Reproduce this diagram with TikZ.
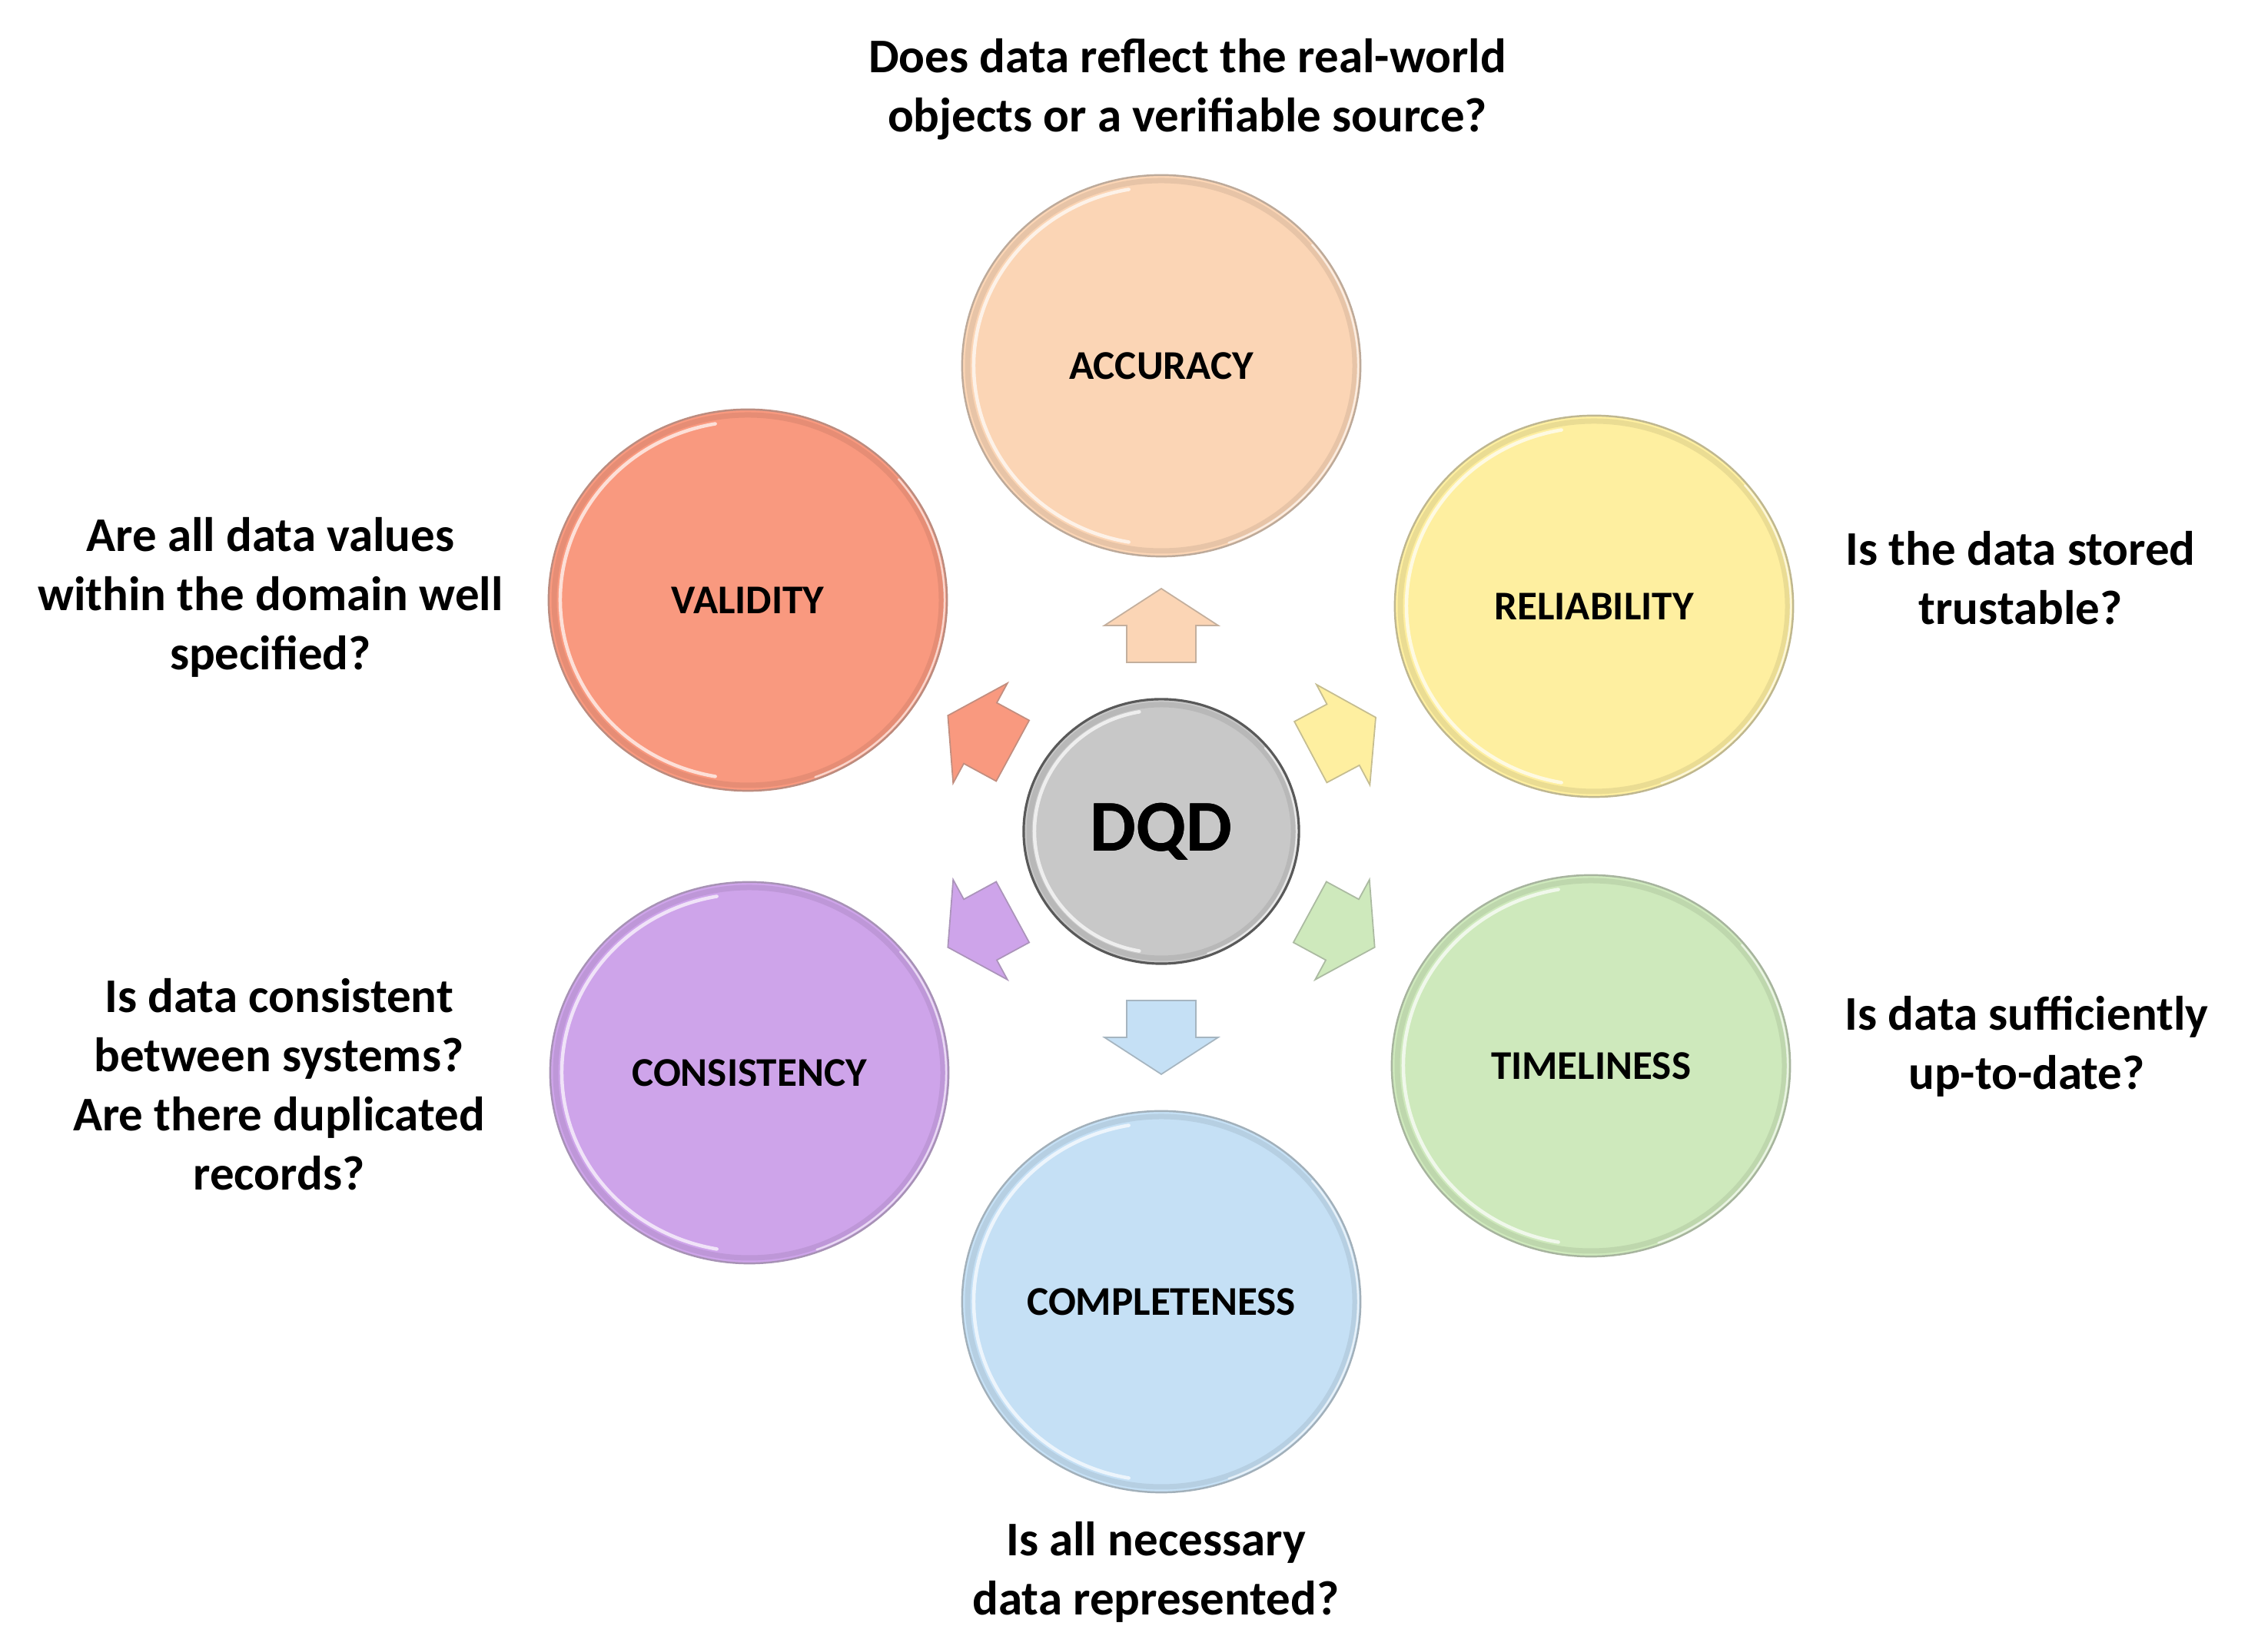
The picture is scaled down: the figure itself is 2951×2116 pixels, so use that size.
\documentclass[tikz,border=0pt]{standalone}
\usepackage{fontspec}
\setmainfont{Carlito}
\usetikzlibrary{calc,shapes.geometric}

\definecolor{accfill}{HTML}{FBD5B5}
\definecolor{relfill}{HTML}{FEEFA0}
\definecolor{timfill}{HTML}{CEE9BC}
\definecolor{comfill}{HTML}{C5E0F5}
\definecolor{confill}{HTML}{CEA4EA}
\definecolor{valfill}{HTML}{F9997F}
\definecolor{hubfill}{HTML}{C8C8C8}

\tikzset{
  ball/.style={ellipse, minimum width=5.18cm, minimum height=4.96cm, inner sep=0pt,
    fill=#1, draw=#1!50!gray, line width=0.7pt,
    font=\fontsize{15.1pt}{18pt}\selectfont\bfseries},
  hub/.style={ellipse, minimum width=3.58cm, minimum height=3.44cm, inner sep=0pt,
    fill=hubfill, draw=gray!70!black, line width=0.9pt,
    font=\fontsize{27pt}{32pt}\selectfont\bfseries},
  question/.style={align=center, inner sep=0pt,
    font=\fontsize{17.9pt}{21.9pt}\selectfont\bfseries},
  blockarrow/.style={fill=#1, draw=#1!55!gray, line width=0.5pt, line join=miter},
  rim/.style={#1!75!black, opacity=0.3, line width=0.07cm},
  shine/.style={white, opacity=0.7, line width=0.045cm, line cap=round},
  gloss/.style={white, opacity=0.6, line width=0.025cm, line cap=round},
}

\begin{document}
\begin{tikzpicture}[x=0.01cm, y=0.01cm]
\useasboundingbox (0,0) rectangle (2951,2116);

% centre hub and the six dimensions
\node[hub] (dqd) at (1511,1034) {DQD};
\node[ball=accfill] (acc) at (1511,1640) {ACCURACY};
\node[ball=relfill] (rel) at (2074,1327) {RELIABILITY};
\node[ball=timfill] (tim) at (2070,729) {TIMELINESS};
\node[ball=comfill] (com) at (1511,422) {COMPLETENESS};
\node[ball=confill] (con) at (975,720) {CONSISTENCY};
\node[ball=valfill] (val) at (973,1335) {VALIDITY};

% bevel effect on the outer circles
\foreach \n/\c in {acc/accfill, rel/relfill, tim/timfill, com/comfill, con/confill, val/valfill} {
  \draw[rim=\c] (\n.center) ellipse [x radius=252, y radius=241];
  \draw[shine] ($(\n.center)+(100:244 and 233)$)
    arc[start angle=100, end angle=260, x radius=244, y radius=233];
  \draw[gloss] ($(\n.center)+(-70:256 and 245)$)
    arc[start angle=-70, end angle=40, x radius=256, y radius=245];
}
% bevel effect on the hub
\draw[rim=hubfill] (dqd.center) ellipse [x radius=172, y radius=165];
\draw[shine] ($(dqd.center)+(100:165 and 158)$)
  arc[start angle=100, end angle=260, x radius=165, y radius=158];
\draw[gloss] ($(dqd.center)+(-70:176 and 169)$)
  arc[start angle=-70, end angle=40, x radius=176, y radius=169];
\node[font=\fontsize{27pt}{32pt}\selectfont\bfseries] at (dqd.center) {DQD};

% block arrows pointing from the hub to each dimension
\foreach \ang/\c in {90/accfill, 28/relfill, -28.5/timfill, -90/comfill, 208.5/confill, 151.5/valfill} {
  \begin{scope}[shift={(dqd.center)}, rotate=\ang]
    \draw[blockarrow=\c] (220,-45) -- (268,-45) -- (268,-74) -- (316,0)
      -- (268,74) -- (268,45) -- (220,45) -- cycle;
  \end{scope}
}

% guiding questions
\node[question] (qacc) at (1545,2000) {Does data reflect the real-world\\objects or a verifiable source?};
\node[question] (qval) at (352,1339) {Are all data values\\within the domain well\\specified?};
\node[question] (qrel) at (2629,1364) {Is the data stored\\trustable?};
\node[question] (qcon) at (363,705) {Is data consistent\\between systems?\\Are there duplicated\\records?};
\node[question] (qtim) at (2637,754) {Is data sufficiently\\up-to-date?};
\node[question] (qcom) at (1504,70) {Is all necessary\\data represented?};
\end{tikzpicture}
\end{document}
